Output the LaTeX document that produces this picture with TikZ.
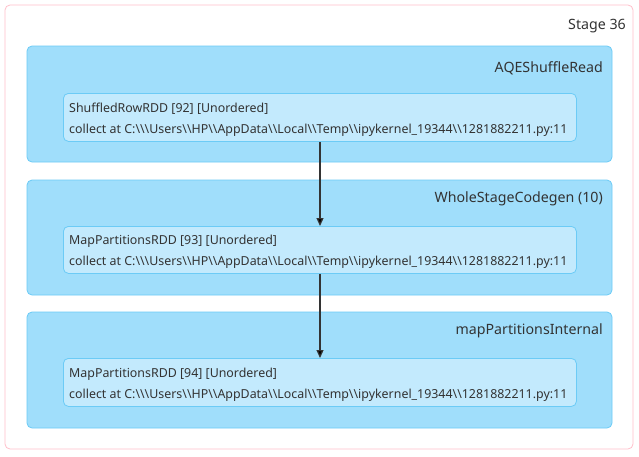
\documentclass[tikz,border=0pt]{standalone}
\usepackage{fontspec}
\setmainfont{Noto Sans}
\usetikzlibrary{arrows.meta}
\newcommand\bsl{\textbackslash}
\newcommand\rddpath{collect at C:\bsl\bsl\bsl Users\bsl\bsl HP\bsl\bsl AppData\bsl\bsl Local\bsl\bsl Temp\bsl\bsl ipykernel\_19344\bsl\bsl 1281882211.py:11}
\definecolor{stageborder}{HTML}{FFC0CB}
\definecolor{clusterfill}{HTML}{A0DEFB}
\definecolor{clusterdraw}{HTML}{6CCBF6}
\definecolor{nodefill}{HTML}{C3EAFD}
\definecolor{nodedraw}{HTML}{6CCBF6}
\definecolor{labeltext}{HTML}{333333}
\definecolor{edgecol}{HTML}{333333}
\tikzset{
  stagebox/.style={draw=stageborder, fill=white, rounded corners=5pt, line width=0.8pt},
  clusterbox/.style={draw=clusterdraw, fill=clusterfill, rounded corners=5pt, line width=0.8pt},
  rddbox/.style={draw=nodedraw, fill=nodefill, rounded corners=5pt, line width=0.8pt},
  clabel/.style={anchor=east, text=labeltext, font=\fontsize{14.2}{17}\selectfont, inner sep=0pt},
  rddtext/.style={anchor=west, text=labeltext, font=\fontsize{12.4}{21}\selectfont, align=left, inner sep=0pt},
  edge/.style={draw=edgecol, line width=1.2pt, -{Triangle[length=8pt,width=7pt,fill=black]}}
}
\begin{document}
\begin{tikzpicture}[x=1pt,y=-1pt]
\useasboundingbox (0,0) rectangle (639,456);
\fill[white] (0,0) rectangle (639,456);
\draw[stagebox] (5,5) rectangle (633,449);
\node[clabel] (stage) at (626,26) {Stage 36};
% clusters
\draw[clusterbox] (27,46) rectangle (612,162);
\node[clabel] (c1) at (603,68) {AQEShuffleRead};
\draw[clusterbox] (27,180) rectangle (612,295);
\node[clabel] (c2) at (603,199) {WholeStageCodegen (10)};
\draw[clusterbox] (27,312) rectangle (612,428);
\node[clabel] (c3) at (603,331) {mapPartitionsInternal};
% rdd nodes
\node[rddbox, minimum width=513pt, minimum height=48pt, anchor=north west, inner sep=0pt] (r1) at (63,93) {};
\node[rddtext] (t1) at ([xshift=6pt,yshift=-2pt]r1.west) {ShuffledRowRDD [92] [Unordered]\\\rddpath};
\node[rddbox, minimum width=513pt, minimum height=47pt, anchor=north west, inner sep=0pt] (r2) at (63,226) {};
\node[rddtext] (t2) at ([xshift=6pt,yshift=-2pt]r2.west) {MapPartitionsRDD [93] [Unordered]\\\rddpath};
\node[rddbox, minimum width=513pt, minimum height=48pt, anchor=north west, inner sep=0pt] (r3) at (63,358) {};
\node[rddtext] (t3) at ([xshift=6pt,yshift=-2pt]r3.west) {MapPartitionsRDD [94] [Unordered]\\\rddpath};
% edges
\draw[edge] (r1.south -| 320,0) -- (r2.north -| 320,0);
\draw[edge] (r2.south -| 320,0) -- (r3.north -| 320,0);
\end{tikzpicture}
\end{document}
